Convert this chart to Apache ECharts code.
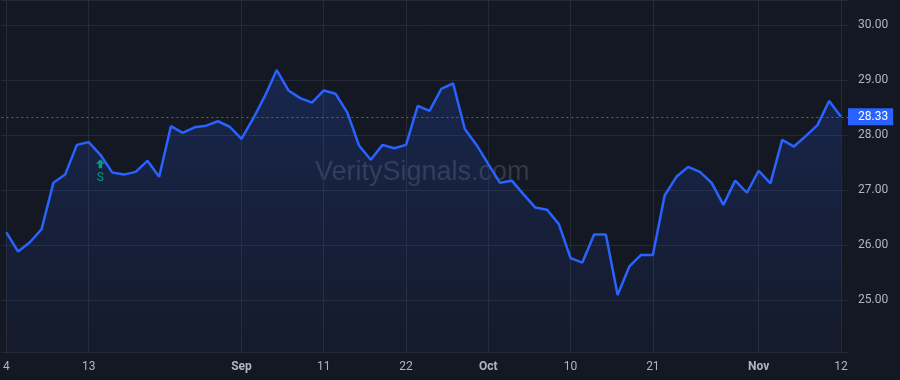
<!DOCTYPE html>
<html>
<head>
<meta charset="utf-8">
<script src="https://cdn.jsdelivr.net/npm/echarts@6/dist/echarts.min.js"></script>
<style>
  html, body { margin: 0; padding: 0; background: #141823; }
  #chart { width: 900px; height: 380px; }
</style>
</head>
<body>
<div id="chart"></div>
<script>
// trading days, Aug 4 - Nov 12
var dates = [
  '08-04','08-05','08-06','08-07','08-08','08-11','08-12','08-13','08-14','08-15',
  '08-18','08-19','08-20','08-21','08-22','08-25','08-26','08-27','08-28','08-29',
  '09-02','09-03','09-04','09-05','09-08','09-09','09-10','09-11','09-12','09-15',
  '09-16','09-17','09-18','09-19','09-22','09-23','09-24','09-25','09-26','09-29',
  '09-30','10-01','10-02','10-03','10-06','10-07','10-08','10-09','10-10','10-13',
  '10-14','10-15','10-16','10-17','10-20','10-21','10-22','10-23','10-24','10-27',
  '10-28','10-29','10-30','10-31','11-03','11-04','11-05','11-06','11-07','11-10',
  '11-11','11-12'
]
var closes = [
  26.23, 25.88, 26.05, 26.29, 27.13, 27.28, 27.82, 27.87, 27.64, 27.32,
  27.28, 27.33, 27.53, 27.24, 28.16, 28.04, 28.14, 28.17, 28.25, 28.15,
  27.93, 28.30, 28.71, 29.18, 28.81, 28.67, 28.59, 28.81, 28.75, 28.41,
  27.81, 27.55, 27.82, 27.76, 27.82, 28.53, 28.44, 28.84, 28.94, 28.11,
  27.82, 27.47, 27.13, 27.17, 26.92, 26.68, 26.64, 26.38, 25.76, 25.68,
  26.19, 26.19, 25.09, 25.61, 25.82, 25.82, 26.90, 27.24, 27.42, 27.33,
  27.13, 26.73, 27.17, 26.95, 27.35, 27.12, 27.91, 27.79, 27.98, 28.18,
  28.62, 28.33
]
var tickDates = ['08-04','08-13','09-02','09-11','09-22','10-01','10-10','10-21','11-03','11-12']
var tickLabels = ['4', '13', 'Sep', '11', '22', 'Oct', '10', '21', 'Nov', '12']
var monthLabels = ['Sep', 'Oct', 'Nov']
var lastPrice = 28.33
var signalDate = '08-14'
var signalText = 'S'

var tickIdx = tickDates.map(function (d) { return dates.indexOf(d) })
var points = closes.map(function (v, i) { return [i, v] })
var signalIdx = dates.indexOf(signalDate)

var myChart = echarts.init(document.getElementById('chart'))
var axisFont = 'Roboto, "Liberation Sans", sans-serif'

var option = {
  backgroundColor: '#141823',
  animation: false,
  grid: { left: 0, right: 52, top: 0, bottom: 28 },
  graphic: [{
    type: 'text',
    left: 315,
    top: 159,
    silent: true,
    style: {
      text: 'VeritySignals.com',
      font: '27px "Liberation Sans", Arial, sans-serif',
      fill: 'rgba(120, 124, 138, 0.32)'
    }
  }],
  xAxis: {
    type: 'value',
    min: -0.425,
    max: 71.6,
    axisLine: { show: false },
    axisTick: { show: false, customValues: tickIdx },
    axisLabel: {
      customValues: tickIdx,
      color: '#b2b5be',
      fontSize: 12,
      fontFamily: axisFont,
      margin: 9,
      formatter: function (v) {
        var t = tickLabels[tickIdx.indexOf(Math.round(v))]
        if (t === undefined) return ''
        return monthLabels.indexOf(t) >= 0 ? '{b|' + t + '}' : t
      },
      rich: { b: { fontWeight: 'bold', color: '#b2b5be', fontSize: 12, fontFamily: axisFont } }
    },
    splitLine: { show: true, lineStyle: { color: '#262a36', width: 1 } }
  },
  yAxis: {
    type: 'value',
    position: 'right',
    min: 24.0545,
    max: 30.4545,
    splitNumber: 5,
    axisLine: { show: false },
    axisTick: { show: false },
    axisLabel: {
      color: '#b2b5be',
      fontSize: 12,
      fontFamily: axisFont,
      margin: 10,
      showMinLabel: false,
      showMaxLabel: false,
      formatter: function (v) { return v.toFixed(2) }
    },
    splitLine: { show: true, lineStyle: { color: '#262a36', width: 1 } }
  },
  series: [{
    type: 'line',
    data: points,
    symbol: 'none',
    lineStyle: { color: '#2962ff', width: 2.5 },
    areaStyle: {
      origin: 'start',
      color: new echarts.graphic.LinearGradient(0, 0, 0, 1, [
        { offset: 0, color: 'rgba(41, 98, 255, 0.28)' },
        { offset: 1, color: 'rgba(41, 98, 255, 0.05)' }
      ])
    },
    markLine: {
      silent: true,
      symbol: 'none',
      data: [{ yAxis: lastPrice }],
      lineStyle: { color: '#2962ff', type: [2, 3], width: 1 },
      label: {
        position: 'end',
        distance: 0,
        formatter: lastPrice.toFixed(2),
        color: '#ffffff',
        fontSize: 12,
        fontFamily: axisFont,
        backgroundColor: '#2962ff',
        padding: [3, 5, 2, 10]
      }
    },
    markPoint: {
      silent: true,
      data: [{
        coord: [signalIdx, closes[signalIdx]],
        symbol: 'path://M5,0 L10,5 L7,5 L7,10 L3,10 L3,5 L0,5 Z',
        symbolSize: [9, 9],
        symbolOffset: [0, 9],
        itemStyle: { color: '#089981' },
        label: {
          show: true,
          position: 'bottom',
          distance: 4,
          formatter: signalText,
          color: '#089981',
          fontSize: 12,
          fontFamily: axisFont
        }
      }]
    }
  }]
}

myChart.setOption(option)
</script>
</body>
</html>
